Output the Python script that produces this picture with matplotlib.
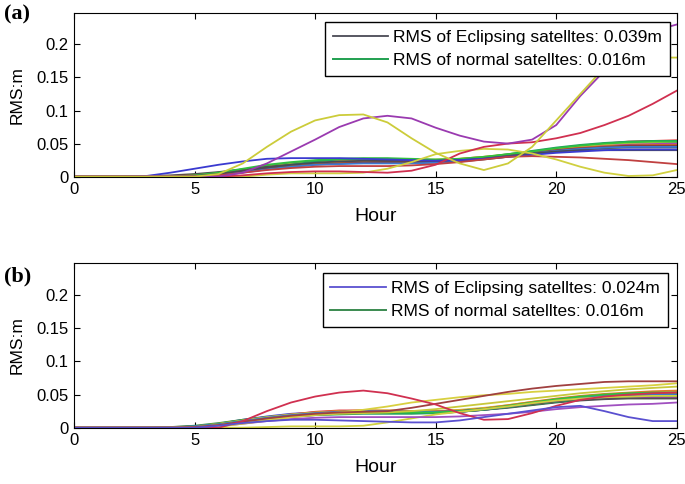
import matplotlib
matplotlib.use("Agg")
import matplotlib.pyplot as plt

plt.rcParams['font.family'] = ['Liberation Sans', 'DejaVu Sans']

hours = list(range(26))

# ---- panel (a) ----
a_normal = [
    [0, 0, 0, 0, 0, .001, .004, .009, .015, .020, .024, .026, .026, .025, .024, .024, .026, .029, .033, .037, .041, .045, .048, .050, .051, .052],
    [0, 0, 0, 0, 0, .002, .006, .011, .016, .020, .022, .023, .023, .022, .021, .022, .024, .027, .031, .035, .040, .044, .047, .049, .050, .050],
    [0, 0, 0, 0, 0, .001, .003, .007, .012, .017, .021, .024, .025, .025, .024, .023, .024, .027, .031, .036, .041, .046, .050, .053, .054, .055],
    [0, 0, 0, 0, .001, .003, .006, .010, .014, .017, .019, .020, .021, .021, .021, .022, .024, .027, .031, .035, .039, .042, .044, .045, .046, .046],
    [0, 0, 0, 0, 0, 0, .002, .006, .011, .016, .020, .023, .024, .024, .023, .023, .025, .028, .032, .036, .041, .045, .048, .049, .050, .050],
    [0, 0, 0, 0, 0, .001, .005, .010, .015, .019, .022, .024, .025, .025, .025, .026, .027, .030, .034, .038, .042, .046, .049, .051, .052, .053],
    [0, 0, 0, .001, .002, .004, .007, .011, .015, .018, .020, .021, .022, .022, .022, .022, .023, .026, .030, .034, .038, .041, .043, .044, .044, .044],
    [0, 0, 0, 0, 0, .002, .005, .009, .013, .017, .020, .022, .023, .024, .024, .025, .027, .030, .033, .037, .041, .044, .046, .047, .048, .048],
    [0, 0, 0, 0, 0, .001, .004, .008, .013, .018, .023, .026, .027, .027, .026, .025, .026, .029, .034, .039, .044, .048, .051, .053, .054, .054],
    [0, 0, 0, 0, .001, .002, .004, .008, .012, .015, .018, .020, .021, .022, .022, .023, .025, .028, .032, .036, .040, .043, .045, .047, .047, .047],
    [0, 0, 0, 0, 0, .001, .003, .007, .011, .015, .018, .019, .020, .020, .020, .021, .023, .027, .031, .035, .039, .042, .044, .045, .045, .045],
    [0, 0, 0, 0, 0, .002, .006, .012, .018, .022, .025, .027, .028, .028, .027, .026, .027, .030, .034, .038, .043, .047, .050, .052, .053, .053],
    [0, 0, 0, 0, 0, .001, .004, .009, .014, .018, .021, .023, .024, .024, .024, .024, .025, .027, .031, .035, .038, .040, .040, .040, .040, .040],
]
a_blue_early = [0, 0, 0, .001, .006, .012, .018, .023, .027, .028, .028, .028, .027, .026, .025, .024, .025, .027, .030, .033, .036, .038, .040, .041, .041, .041]
a_yellow_bump = [0, 0, 0, 0, 0, 0, .004, .020, .045, .068, .085, .093, .094, .082, .058, .036, .020, .010, .020, .045, .085, .125, .165, .178, .180, .180]
a_purple_bump = [0, 0, 0, 0, 0, 0, 0, .006, .020, .038, .056, .075, .088, .092, .088, .074, .062, .053, .050, .056, .078, .122, .160, .195, .220, .230]
a_red_rise = [0, 0, 0, 0, 0, 0, 0, .002, .005, .007, .008, .008, .007, .006, .009, .018, .035, .045, .050, .052, .058, .066, .078, .092, .110, .130]
a_red_decline = [0, 0, 0, 0, 0, 0, .002, .006, .010, .013, .015, .016, .016, .016, .017, .019, .022, .026, .030, .031, .030, .029, .027, .025, .022, .019]
a_yellow_low = [0, 0, 0, 0, 0, 0, 0, 0, .003, .005, .005, .005, .006, .012, .022, .034, .039, .042, .041, .035, .026, .015, .006, .001, .002, .010]

# ---- panel (b) ----
b_normal = [
    [0, 0, 0, 0, 0, .002, .006, .012, .017, .021, .023, .024, .024, .023, .022, .022, .024, .027, .031, .035, .039, .043, .046, .048, .049, .049],
    [0, 0, 0, 0, .001, .003, .007, .012, .016, .019, .021, .022, .022, .022, .022, .023, .025, .028, .032, .036, .040, .043, .045, .046, .046, .046],
    [0, 0, 0, 0, 0, .001, .004, .009, .015, .020, .024, .026, .026, .025, .024, .024, .026, .029, .033, .038, .042, .046, .049, .051, .052, .052],
    [0, 0, 0, 0, 0, .002, .005, .010, .015, .019, .022, .024, .025, .025, .025, .025, .026, .029, .033, .037, .041, .045, .048, .050, .051, .051],
    [0, 0, 0, 0, 0, .001, .003, .007, .012, .016, .019, .021, .022, .022, .022, .022, .024, .027, .031, .035, .039, .042, .044, .045, .045, .045],
    [0, 0, 0, 0, 0, .002, .006, .011, .016, .020, .023, .025, .026, .026, .025, .025, .027, .030, .034, .039, .043, .047, .050, .052, .053, .054],
    [0, 0, 0, 0, .001, .002, .005, .009, .013, .017, .020, .022, .023, .023, .023, .023, .024, .027, .030, .034, .038, .041, .043, .044, .044, .044],
    [0, 0, 0, 0, 0, .001, .004, .008, .013, .018, .022, .025, .026, .026, .025, .025, .026, .029, .034, .039, .044, .048, .051, .053, .055, .056],
    [0, 0, 0, 0, 0, .002, .005, .010, .014, .017, .019, .020, .021, .021, .021, .022, .024, .027, .031, .035, .039, .043, .046, .047, .048, .048],
    [0, 0, 0, 0, 0, .001, .004, .009, .014, .018, .021, .023, .024, .024, .024, .024, .025, .028, .032, .036, .040, .044, .047, .049, .050, .050],
    [0, 0, 0, 0, 0, .002, .005, .010, .015, .019, .022, .024, .025, .025, .024, .024, .025, .028, .032, .037, .041, .045, .048, .050, .050, .050],
    [0, 0, 0, 0, 0, .001, .003, .008, .013, .017, .020, .022, .023, .023, .023, .023, .025, .028, .033, .038, .043, .047, .050, .052, .053, .053],
]
b_blue_dip = [0, 0, 0, 0, 0, 0, .003, .007, .010, .012, .012, .011, .010, .009, .008, .008, .011, .016, .021, .026, .031, .033, .025, .016, .010, .010]
b_red_bump = [0, 0, 0, 0, 0, 0, 0, .010, .025, .038, .047, .053, .056, .052, .044, .035, .022, .012, .013, .022, .033, .042, .047, .050, .052, .053]
b_brown_top = [0, 0, 0, 0, 0, .001, .004, .009, .014, .018, .021, .023, .024, .025, .030, .036, .042, .048, .054, .059, .063, .066, .069, .070, .070, .070]
b_yellow_top = [0, 0, 0, 0, 0, 0, .002, .006, .011, .016, .020, .023, .027, .032, .038, .042, .046, .049, .051, .054, .056, .058, .060, .062, .064, .067]
b_yellow_mid = [0, 0, 0, 0, 0, .001, .004, .008, .012, .016, .019, .021, .022, .023, .025, .028, .032, .036, .040, .044, .048, .052, .055, .058, .060, .062]
b_purple_low = [0, 0, 0, 0, 0, 0, .002, .006, .010, .013, .015, .016, .016, .016, .016, .016, .017, .019, .021, .024, .028, .031, .033, .035, .036, .038]
b_yellow_low = [0, 0, 0, 0, 0, 0, 0, 0, .001, .002, .002, .002, .003, .008, .014, .020, .024, .028, .032, .037, .041, .044, .046, .047, .048, .048]

normal_colors = ['#3a3acf', '#2e8b3e', '#e03030', '#2fb5b5', '#b040b0', '#c8c83a', '#505050',
                 '#e07a2a', '#20a060', '#8a3a3a', '#3a7ad0', '#30c040', '#c03070']

labels_a = ['RMS of Eclipsing satelltes: 0.039m', 'RMS of normal satelltes: 0.016m']
labels_b = ['RMS of Eclipsing satelltes: 0.024m', 'RMS of normal satelltes: 0.016m']

LW = 1.3

fig = plt.figure(figsize=(6.85, 4.84), dpi=100)
ax_a = fig.add_axes([0.108, 0.635, 0.880, 0.339])
ax_b = fig.add_axes([0.108, 0.1163, 0.880, 0.3397])


def style_axes(ax):
    ax.set_xlim(0, 25)
    ax.set_ylim(0, 0.248)
    ax.set_xticks([0, 5, 10, 15, 20, 25])
    ax.set_yticks([0, 0.05, 0.1, 0.15, 0.2])
    ax.set_yticklabels(['0', '0.05', '0.1', '0.15', '0.2'])
    ax.tick_params(direction='in', top=True, right=True, length=4, width=0.8,
                   labelsize=12, pad=4)
    for sp in ax.spines.values():
        sp.set_linewidth(0.8)
    ax.set_xlabel('Hour', fontsize=14, labelpad=8)
    ax.set_ylabel('RMS:m', fontsize=12.5, labelpad=8)


def add_legend(ax, handles, anchor):
    ax.legend(handles=handles, loc='upper right', bbox_to_anchor=anchor,
              borderaxespad=0, fontsize=12.5, fancybox=False, framealpha=1,
              edgecolor='black', handlelength=3.2, handletextpad=0.3,
              labelspacing=0.45, borderpad=0.45)


# panel (a)
for i, curve in enumerate(a_normal[:-1]):
    ax_a.plot(hours, curve, color=normal_colors[i % len(normal_colors)], lw=LW)
h_ecl_a, = ax_a.plot(hours, a_normal[-1], color='#4a4a55', lw=LW, label=labels_a[0])
ax_a.plot(hours, a_blue_early, color='#3a3ad0', lw=LW)
ax_a.plot(hours, a_red_decline, color='#c04040', lw=LW)
ax_a.plot(hours, a_yellow_low, color='#d0d040', lw=LW)
ax_a.plot(hours, a_red_rise, color='#d03050', lw=LW)
ax_a.plot(hours, a_purple_bump, color='#9a3ab0', lw=LW)
ax_a.plot(hours, a_yellow_bump, color='#cccc3a', lw=LW)
h_nor_a, = ax_a.plot([], [], color='#20a050', lw=1.4, label=labels_a[1])
style_axes(ax_a)
add_legend(ax_a, [h_ecl_a, h_nor_a], (0.989, 0.94))

# panel (b)
for i, curve in enumerate(b_normal):
    ax_b.plot(hours, curve, color=normal_colors[i % len(normal_colors)], lw=LW)
ax_b.plot(hours, b_yellow_low, color='#d0d040', lw=LW)
ax_b.plot(hours, b_purple_low, color='#a050c0', lw=LW)
ax_b.plot(hours, b_yellow_mid, color='#c8c83a', lw=LW)
ax_b.plot(hours, b_yellow_top, color='#d8d040', lw=LW)
ax_b.plot(hours, b_brown_top, color='#a04040', lw=LW)
ax_b.plot(hours, b_red_bump, color='#d03050', lw=LW)
h_ecl_b, = ax_b.plot(hours, b_blue_dip, color='#5a50d0', lw=LW, label=labels_b[0])
h_nor_b, = ax_b.plot([], [], color='#3a8a50', lw=1.4, label=labels_b[1])
style_axes(ax_b)
add_legend(ax_b, [h_ecl_b, h_nor_b], (0.985, 0.939))

fig.text(4 / 685, 1 - 4 / 484, '(a)', family='Liberation Serif', weight='bold',
         fontsize=16, va='top', ha='left')
fig.text(4 / 685, 1 - 266 / 484, '(b)', family='Liberation Serif', weight='bold',
         fontsize=16, va='top', ha='left')

fig.savefig('out.png', dpi=100)
